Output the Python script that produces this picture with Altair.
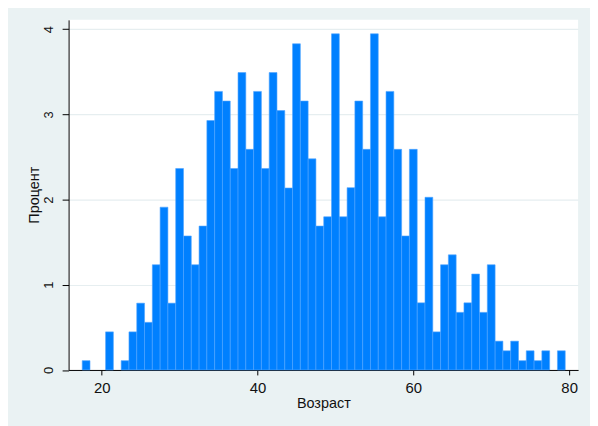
import altair as alt
import pandas as pd

ages = list(range(18, 80))
percent = [
    0.109, 0.0, 0.0, 0.447, 0.0, 0.109, 0.447, 0.784, 0.559, 1.235,
    1.911, 0.784, 2.365, 1.573, 1.235, 1.689, 2.928, 3.270, 3.157, 2.365,
    3.491, 2.590, 3.270, 2.365, 3.491, 3.045, 2.136, 3.829, 3.157, 2.478,
    1.689, 1.798, 3.946, 1.798, 2.140, 3.157, 2.590, 3.946, 1.798, 3.270,
    2.590, 1.573, 2.590, 0.788, 2.027, 0.447, 1.235, 1.351, 0.676, 0.788,
    1.126, 0.676, 1.235, 0.338, 0.225, 0.338, 0.109, 0.225, 0.109, 0.225,
    0.0, 0.225,
]
x_ticks = [20, 40, 60, 80]
y_ticks = [0, 1, 2, 3, 4]

df = pd.DataFrame({"age": ages, "pct": percent})

FONT = "Liberation Sans"

bars = (
    alt.Chart(df)
    .transform_filter("datum.pct > 0")
    .transform_calculate(x0="datum.age - 0.5", x1="datum.age + 0.5")
    .mark_rect(fill="#0080ff", stroke="#4fa3ff", strokeWidth=0.6, opacity=1)
    .encode(
        x=alt.X(
            "x0:Q",
            scale=alt.Scale(domain=[15.75, 81.15], nice=False, zero=False),
            axis=alt.Axis(
                values=x_ticks,
                title="Возраст",
                grid=False,
                domainColor="black",
                domainWidth=1,
                tickColor="black",
                tickSize=5,
                labelFont=FONT,
                labelFontSize=15,
                labelColor="#111111",
                labelBaseline="alphabetic",
                labelPadding=18,
                titleFont=FONT,
                titleFontSize=14.5,
                titleFontWeight="normal",
                titleColor="#111111",
                titleBaseline="alphabetic",
                titleX=256.5,
                titleY=38.3,
            ),
        ),
        x2="x1:Q",
        y=alt.Y(
            "pct:Q",
            scale=alt.Scale(domain=[0, 4.11], nice=False),
            axis=alt.Axis(
                values=y_ticks,
                title="Процент",
                grid=True,
                gridColor="#e6eef0",
                gridWidth=1.2,
                domainColor="black",
                domainWidth=1,
                tickColor="black",
                tickSize=6.5,
                labelFont=FONT,
                labelFontSize=13,
                labelColor="#111111",
                labelAngle=270,
                labelAlign="center",
                labelBaseline="bottom",
                labelPadding=6.5,
                titleFont=FONT,
                titleFontSize=14.5,
                titleFontWeight="normal",
                titleColor="#111111",
                titleAngle=270,
                titleAlign="center",
                titleBaseline="alphabetic",
                titleX=-30.3,
                titleY=176,
            ),
        ),
        y2=alt.datum(0),
    )
)

chart = (
    bars.properties(
        width=513,
        height=352.5,
        background="#eaf2f3",
        padding={"left": 61, "top": 10.5, "right": 12, "bottom": 55},
        autosize="none",
    )
    .configure_view(fill="white", stroke=None)
)

chart.save("out.html", embed_options={"renderer": "svg", "actions": False})
